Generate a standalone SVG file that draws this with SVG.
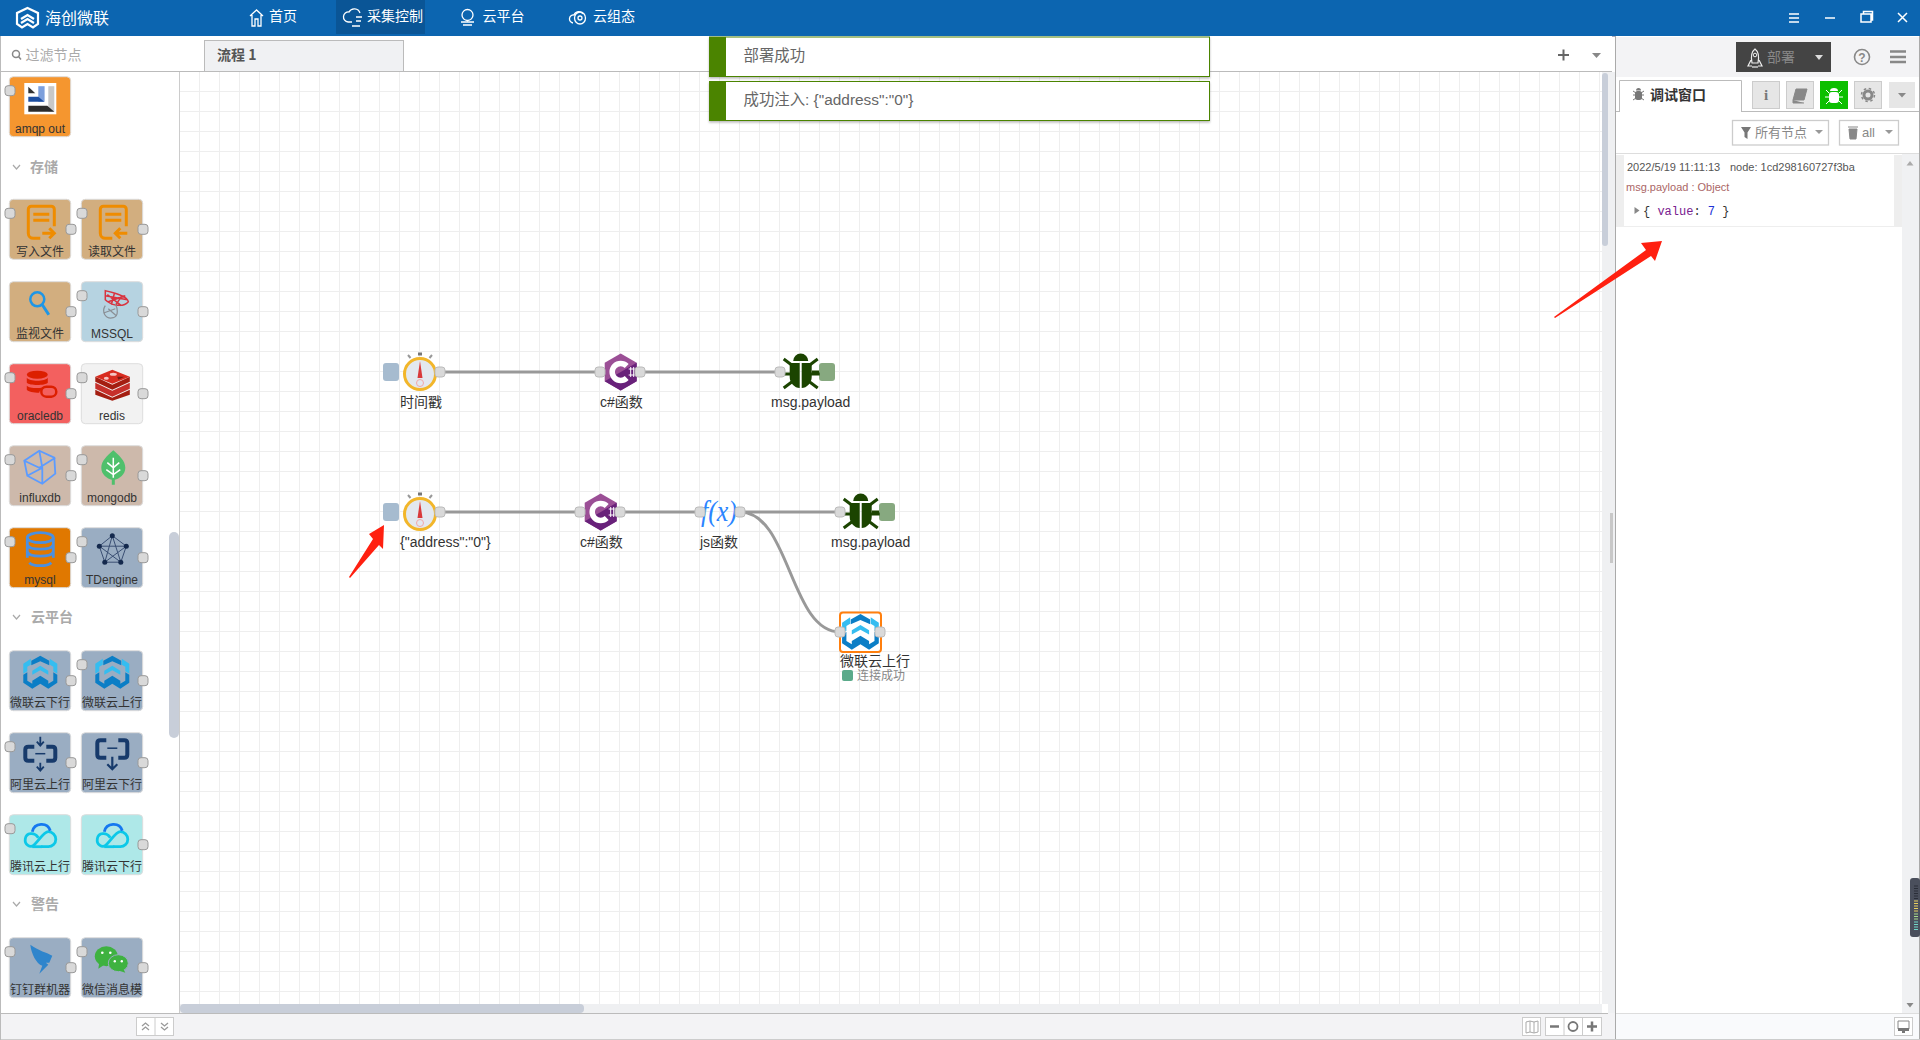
<svg xmlns="http://www.w3.org/2000/svg" xmlns:xlink="http://www.w3.org/1999/xlink" width="1920" height="1040" viewBox="0 0 1920 1040">
<style>
text{font-family:"Liberation Sans","Noto Sans CJK SC",sans-serif;font-size:14px;fill:#555}
.cjk{font-family:"Noto Sans CJK SC","Liberation Sans",sans-serif}
.nav{font-size:14px;fill:#fff}
.plabel{font-size:12px;fill:#333;text-anchor:middle}
.sec{font-size:14px;font-weight:bold;fill:#aaa}
.lab{font-size:14px;fill:#333}
.pn{stroke:#ddd;stroke-width:1}
.port{fill:#d9d9d9;stroke:#999;stroke-width:1}
.cport{fill:#d9d9d9;stroke:#bbb;stroke-width:1}
.wire{fill:none;stroke:#999;stroke-width:3}
.btn{fill:#e6e6e6;stroke:#ccc;stroke-width:1}
.wbtn{fill:#fff;stroke:#ccc;stroke-width:1.3}
.nvi{fill:none;stroke:#fff;stroke-width:1.3}
.tool{fill:#fff;stroke:#ccc;stroke-width:1}
.note{fill:#fff;stroke:#4b8400;stroke-width:1}
.ntxt{font-size:15.4px;fill:#666}
.dbg{font-size:11px;fill:#555}
.mono{font-family:"Liberation Mono",monospace;font-size:12px;white-space:pre}
</style>
<defs>
<pattern id="grid" patternUnits="userSpaceOnUse" x="180" y="71" width="20" height="20">
<rect x="19" y="0" width="1" height="20" fill="#eee"/><rect x="0" y="0" width="20" height="1" fill="#eee"/>
</pattern>
<filter id="sh" x="-2%" y="-10%" width="104%" height="125%"><feDropShadow dx="0" dy="1.5" stdDeviation="1.2" flood-color="#888" flood-opacity=".6"/></filter>
<rect id="pL" class="port" x="-4.3" y="9" width="10" height="10" rx="3"/>
<rect id="pR" class="port" x="56.7" y="25" width="10" height="10" rx="3"/>
<rect id="cp" class="cport" x="-5" y="-5" width="10" height="10" rx="3"/>
<g id="timer">
<circle cx="0" cy="0" r="15.5" fill="#e3e8ef" stroke="#f2b62a" stroke-width="3"/>
<rect x="-2" y="-21.5" width="4" height="3" fill="#777"/>
<path d="M-12-19l2.500 3M12-19l-2.500 3" stroke="#999" stroke-width="2"/>
<path d="M0-13L2.500 4H-2.500Z" fill="#d9393b"/>
<circle cx="0" cy="9" r="3.500" fill="none" stroke="#f3a7a7" stroke-width="1"/>
</g>
<g id="cs">
<path d="M0-18.500L16-9.300V9.300L0 18.500L-16 9.300V-9.300Z" fill="#9b4f96"/>
<path d="M16-9.300V9.300L0 18.500L-16 9.300L0 0Z" fill="#68217a"/>
<path d="M6-6A8.500 8.500 0 1 0 6 6" fill="none" stroke="#fff" stroke-width="5.500"/>
<path d="M8-3H14M8 3H14M10-5V5M13-5V5" stroke="#fff" stroke-width="1"/>
</g>
<g id="bug" fill="#1b4400">
<path d="M-7.500-10A7.500 7.500 0 0 1 7.500-10Z"/>
<path d="M-11-8H-1V17C-6 17-11 12-11 6ZM1-8H11V6C11 12 6 17 1 17Z"/>
<path d="M-9-6L-17-12M9-6L17-12M-10 3H-19M10 3H19M-9 11L-17 17M9 11L17 17" stroke="#1b4400" stroke-width="3" fill="none"/>
</g>
<g id="hc">
<path d="M18 1L27 6V10.500L18 6.500L9 10.500V6Z" fill="#0b7ec6"/>
<path d="M8.500 4L1 9V19L5 16.500V12L8.500 10ZM27.500 4L35 9V19L31 16.500V12L27.500 10Z" fill="#35bdf0"/>
<path d="M1 20L5 17.500V26L10 29V26L18 21L26 26V29L31 26V17.500L35 20V28L26 34L18 29L10 34L1 28Z" fill="#0b7ec6"/>
<path d="M10 16L18 11L26 16V20L18 15.500L10 20Z" fill="#35bdf0"/>
</g>
<g id="farrow" fill="none" stroke="#ef8c00" stroke-width="3">
<path d="M19 10A3 3 0 0 1 22 7H42A3 3 0 0 1 45 10V27M19 10V34A5 5 0 0 0 24 39H31"/>
<path d="M24 15H40M24 21H40"/>
</g>
</defs>

<!-- header -->
<g id="header">
<rect width="1920" height="36" fill="#0c65b0"/>
<rect y="36" width="1920" height="1" fill="#aab"/>
<rect x="336" width="89" height="34" fill="#0a5596"/>
<path d="M27.500 8L38 13V24L33 27.500L27.500 24L22 27.500L17 24V13ZM21 19L27.500 15L34 19M21 23L27.500 19L34 23" fill="none" stroke="#fff" stroke-width="2.200"/>
<text class="cjk" x="45" y="24" style="font-size:16px;fill:#fff">海创微联</text>
<path class="nvi" d="M250 16L256.500 10L263 16M252 15V26H255V19H258V26H261V15"/>
<text class="nav cjk" x="269" y="21">首页</text>
<path class="nvi" d="M348 22A5 5 0 0 1 349 12A6 6 0 0 1 360 13M348 22H352M356 17H362M356 21H361M352 26H360"/>
<text class="nav cjk" x="367" y="21">采集控制</text>
<path class="nvi" d="M462 15A5.500 5.500 0 1 1 473 15A5.500 5.500 0 1 1 462 15M461 22H474M463 25H472"/>
<text class="nav cjk" x="482.500" y="21">云平台</text>
<path class="nvi" d="M573 23A4 4 0 0 1 574 15A5 5 0 0 1 583 14"/><ellipse class="nvi" cx="580" cy="18" rx="5.500" ry="6"/><circle class="nvi" cx="580" cy="18" r="2"/>
<text class="nav cjk" x="593" y="21">云组态</text>
<path d="M1789 14H1799M1789 18H1799M1789 22H1799" stroke="#fff" stroke-width="1.300"/>
<path d="M1825 18H1835" stroke="#fff" stroke-width="1.500"/>
<path d="M1861 14H1871V22H1861ZM1863.500 14V11.500H1872.500V20H1871" fill="none" stroke="#fff" stroke-width="1.500"/>
<path d="M1898 13L1907 22M1907 13L1898 22" stroke="#fff" stroke-width="1.500"/>
</g>

<!-- workspace -->
<g id="workspace">
<rect x="180" y="71" width="1422" height="933" fill="#fff"/>
<rect x="180" y="71" width="1422" height="933" fill="url(#grid)"/>
<rect x="1602" y="72" width="13" height="941" fill="#eff0f2"/>
<rect x="1602" y="73" width="6" height="173" rx="3" fill="#c8ced9"/>
<rect x="1602" y="1004" width="6" height="9" fill="#fff"/>
<rect x="1610" y="513" width="3" height="50" fill="#c8c8c8"/>
<rect x="180" y="1004" width="1422" height="9" fill="#eff0f2"/>
<rect x="180" y="1004" width="404" height="9" rx="4" fill="#c8ced9"/>
<rect x="0" y="36" width="1612" height="35" fill="#fff"/>
<rect x="0" y="71" width="1612" height="1" fill="#bbb"/>
<rect x="204.500" y="40.500" width="199" height="31" fill="#f0f1f3" stroke="#bbb"/>
<text class="cjk" x="217" y="60" style="font-weight:bold;fill:#555">流程 1</text>
<path d="M1558 55H1569M1563.500 49.500V60.500" stroke="#666" stroke-width="2"/>
<path d="M1592 53H1601L1596.500 58Z" fill="#888"/>
</g>

<!-- palette -->
<g id="palette">
<rect x="0" y="72" width="180" height="941" fill="#fff"/>
<rect x="0" y="36" width="1" height="1004" fill="#bbb"/>
<rect x="179" y="72" width="1" height="941" fill="#ccc"/>
<rect x="169" y="532" width="10" height="206" rx="5" fill="#c8ced9"/>
<circle cx="16" cy="54" r="3.500" fill="none" stroke="#888" stroke-width="1.500"/><path d="M18.500 56.500L21 59.500" stroke="#888" stroke-width="1.500"/>
<text class="cjk" x="25.500" y="60" style="fill:#aaa">过滤节点</text>
<path d="M13 165L16.500 169L20 165M13 615L16.500 619L20 615M13 902L16.500 906L20 902" fill="none" stroke="#aaa" stroke-width="1.200"/>
<text class="sec cjk" x="30" y="172">存储</text>
<text class="sec cjk" x="31" y="622">云平台</text>
<text class="sec cjk" x="31" y="909">警告</text>

<g id="p-amqp" transform="translate(9.300 76.700)"><rect class="pn" width="61.400" height="60" rx="4" fill="#f5962f"/>
<rect x="15" y="6.300" width="32" height="31.300" fill="#fff"/>
<path d="M19 10L26 16.500H19Z" fill="#333"/><rect x="29" y="9.500" width="6.300" height="15.500" fill="#7c9fdc"/><path d="M19 20H29L35 25H19Z" fill="#1c4ea0"/><rect x="39" y="9.500" width="6" height="25.500" fill="#c8c8c8"/><path d="M19 29H38L45 35H19Z" fill="#2c2c2c"/>
<use href="#pL"/><text class="plabel" x="30.700" y="56">amqp out</text></g>

<g id="p-fw" transform="translate(9.300 199.300)"><rect class="pn" width="61.400" height="60" rx="4" fill="#d2ae7f"/>
<use href="#farrow"/><path d="M33 34H45M40 29L45 34L40 39" fill="none" stroke="#ef8c00" stroke-width="3"/>
<use href="#pL"/><use href="#pR"/><text class="plabel" x="30.700" y="56.500">写入文件</text></g>

<g id="p-fr" transform="translate(81.300 199.300)"><rect class="pn" width="61.400" height="60" rx="4" fill="#d2ae7f"/>
<use href="#farrow"/><path d="M46 34H34M39 29L34 34L39 39" fill="none" stroke="#ef8c00" stroke-width="3"/>
<use href="#pL"/><use href="#pR"/><text class="plabel" x="30.700" y="56.500">读取文件</text></g>

<g id="p-watch" transform="translate(9.300 281.700)"><rect class="pn" width="61.400" height="60" rx="4" fill="#d2ae7f"/>
<circle cx="28" cy="17.600" r="7" fill="none" stroke="#1e96e6" stroke-width="2.500"/><path d="M33 23L39.500 33" stroke="#1e96e6" stroke-width="3"/>
<use href="#pR"/><text class="plabel" x="30.700" y="56">监视文件</text></g>

<g id="p-mssql" transform="translate(81.300 281.700)"><rect class="pn" width="61.400" height="60" rx="4" fill="#b6d3e1"/>
<path d="M24 9C32 11 46 14 47 20C42 26 30 24 24 18ZM26 13L40 24M33 12L30 23M40 15L34 24M24 14L46 18M27 20L44 14" fill="none" stroke="#d9333f" stroke-width="1.500"/>
<path d="M24 24C20 30 24 38 32 36C38 34 36 26 34 22M27 27L35 34M23 31L34 27" fill="none" stroke="#8a8f95" stroke-width="1.200"/>
<use href="#pL"/><use href="#pR"/><text class="plabel" x="30.700" y="56">MSSQL</text></g>

<g id="p-oracle" transform="translate(9.300 363.700)"><rect class="pn" width="61.400" height="60" rx="4" fill="#f3605f"/>
<ellipse cx="28" cy="11" rx="10.500" ry="4" fill="#dc1f00"/><path d="M17.500 14C20 18 36 18 38.500 14V19C36 22 20 22 17.500 19ZM17.500 22C20 25 32 25 36 23L30 28V29C24 29 19 28 17.500 26Z" fill="#dc1f00"/>
<rect x="32" y="23" width="15" height="10" rx="5" fill="none" stroke="#dc1f00" stroke-width="2.500"/>
<use href="#pL"/><use href="#pR"/><text class="plabel" x="30.700" y="56">oracledb</text></g>

<g id="p-redis" transform="translate(81.300 363.700)"><rect class="pn" width="61.400" height="60" rx="4" fill="#f2f2f2"/>
<path d="M14 26L31 34L48.500 26V31L31 37L14 31Z" fill="#a41e11"/><path d="M14 19L31 27L48.500 19V25L31 33L14 25Z" fill="#c6302b"/><path d="M14 13L31 21L48.500 13V18L31 26L14 18Z" fill="#a41e11"/><path d="M14 13L31 6L48.500 13L31 20Z" fill="#d82c20"/>
<ellipse cx="32" cy="10.500" rx="3.500" ry="1.500" fill="#f5c6c3"/><ellipse cx="25" cy="14.500" rx="2.500" ry="1.500" fill="#f5c6c3"/><path d="M36 13H43L37 16Z" fill="#7a1a12"/>
<use href="#pL"/><use href="#pR"/><text class="plabel" x="30.700" y="56">redis</text></g>

<g id="p-influx" transform="translate(9.300 445.700)"><rect class="pn" width="61.400" height="60" rx="4" fill="#cdb9ab"/>
<path d="M30 5L45 12L46 28L33 38L18 30L15 15ZM15 15L30 22L46 12M30 5L33 22L18 30M33 22L33 38" fill="none" stroke="#5b9bff" stroke-width="1.800"/>
<use href="#pL"/><use href="#pR"/><text class="plabel" x="30.700" y="56">influxdb</text></g>

<g id="p-mongo" transform="translate(81.300 445.700)"><rect class="pn" width="61.400" height="60" rx="4" fill="#cdb9ab"/>
<path d="M32 4.500C26 10 20 15 20 22C20 29 26 33 30.500 34V39H33.500V34C38 33 44 29 44 22C44 15 38 10 32 4.500Z" fill="#4fc06c"/>
<path d="M32 12V32M26 17L32 22L38 17M25 24L32 29L39 24" fill="none" stroke="#fff" stroke-width="1.500"/>
<use href="#pL"/><use href="#pR"/><text class="plabel" x="30.700" y="56">mongodb</text></g>

<g id="p-mysql" transform="translate(9.300 527.700)"><rect class="pn" width="61.400" height="60" rx="4" fill="#e07800"/>
<g fill="none" stroke="#4a90e2" stroke-width="2.800"><ellipse cx="31" cy="10" rx="13" ry="5"/><path d="M18 10V30M44 10V30M18 17C20 23 42 23 44 17M18 24C20 30 42 30 44 24M20 35C24 39 38 39 42 35"/></g>
<use href="#pL"/><use href="#pR"/><text class="plabel" x="30.700" y="56">mysql</text></g>

<g id="p-td" transform="translate(81.300 527.700)"><rect class="pn" width="61.400" height="60" rx="4" fill="#9aadc2"/>
<path d="M31 8L45 18.500L39.500 34.500H23.500L18 18.500ZM31 8L39.500 34.500L18 18.500H45L23.500 34.500Z" fill="none" stroke="#3a4f73" stroke-width="1"/>
<g fill="#14294d"><circle cx="31" cy="8" r="2.500"/><circle cx="45" cy="18.500" r="2.500"/><circle cx="39.500" cy="34.500" r="2.500"/><circle cx="23.500" cy="34.500" r="2.500"/><circle cx="18" cy="18.500" r="2.500"/></g>
<use href="#pL"/><use href="#pR"/><text class="plabel" x="30.700" y="56">TDengine</text></g>

<g id="p-hcd" transform="translate(9.300 650.700)"><rect class="pn" width="61.400" height="60" rx="4" fill="#9aadc2"/>
<use href="#hc" x="13" y="4"/><use href="#pR"/><text class="plabel" x="30.700" y="56">微联云下行</text></g>

<g id="p-hcu" transform="translate(81.300 650.700)"><rect class="pn" width="61.400" height="60" rx="4" fill="#9aadc2"/>
<use href="#hc" x="13" y="4"/><use href="#pL"/><use href="#pR"/><text class="plabel" x="30.700" y="56">微联云上行</text></g>

<g id="p-aliu" transform="translate(9.300 732.700)"><rect class="pn" width="61.400" height="60" rx="4" fill="#9aadc2"/>
<path d="M25 14H19Q16 14 16 17V25Q16 28 19 28H25M37 14H43Q46 14 46 17V25Q46 28 43 28H37" fill="none" stroke="#173a6b" stroke-width="4"/>
<path d="M26 21H36" stroke="#173a6b" stroke-width="1.500"/><path d="M31 4V12M27.500 9L31 13L34.500 9M31 30V38M27.500 34L31 38L34.500 34" fill="none" stroke="#173a6b" stroke-width="1.800"/>
<use href="#pL"/><use href="#pR"/><text class="plabel" x="30.700" y="56">阿里云上行</text></g>

<g id="p-alid" transform="translate(81.300 732.700)"><rect class="pn" width="61.400" height="60" rx="4" fill="#9aadc2"/>
<path d="M25 7.500H19Q16 7.500 16 10.500V22Q16 25 19 25H25M37 7.500H43Q46 7.500 46 10.500V22Q46 25 43 25H37" fill="none" stroke="#173a6b" stroke-width="4"/>
<path d="M26 15.500H36" stroke="#173a6b" stroke-width="1.500"/><path d="M31 24V36M26 31.500L31 36.500L36 31.500" fill="none" stroke="#173a6b" stroke-width="2.200"/>
<use href="#pR"/><text class="plabel" x="30.700" y="56">阿里云下行</text></g>

<g id="p-txu" transform="translate(9.300 814.700)"><rect class="pn" width="61.400" height="60" rx="4" fill="#aee8e8"/>
<path d="M32 32H39A7.500 7.500 0 0 0 39 17C35 17 30 25 25 30C21 34 15 30 16 24C17 18 25 17 29 23" fill="none" stroke="#0cc8e8" stroke-width="2.800"/>
<path d="M23 17C25 8 38 7 41 16" fill="none" stroke="#1478f0" stroke-width="2.800"/><path d="M23 32H33" stroke="#0cc8e8" stroke-width="2.800"/>
<use href="#pL"/><text class="plabel" x="30.700" y="56">腾讯云上行</text></g>

<g id="p-txd" transform="translate(81.300 814.700)"><rect class="pn" width="61.400" height="60" rx="4" fill="#aee8e8"/>
<path d="M32 32H39A7.500 7.500 0 0 0 39 17C35 17 30 25 25 30C21 34 15 30 16 24C17 18 25 17 29 23" fill="none" stroke="#0cc8e8" stroke-width="2.800"/>
<path d="M23 17C25 8 38 7 41 16" fill="none" stroke="#1478f0" stroke-width="2.800"/><path d="M23 32H33" stroke="#0cc8e8" stroke-width="2.800"/>
<use href="#pR"/><text class="plabel" x="30.700" y="56">腾讯云下行</text></g>

<g id="p-ding" transform="translate(9.300 937.700)"><rect class="pn" width="61.400" height="60" rx="4" fill="#9aadc2"/>
<path d="M21 7C29 13 38 15 43 18L40 25H36.500L39 27L30 36L33 28C27 26 22 16 21 7Z" fill="#2f85cc"/>
<use href="#pL"/><use href="#pR"/><text class="plabel" x="30.700" y="56">钉钉群机器</text></g>

<g id="p-wx" transform="translate(81.300 937.700)"><rect class="pn" width="61.400" height="60" rx="4" fill="#9aadc2"/>
<ellipse cx="25" cy="18.500" rx="11.500" ry="10" fill="#3eb240"/><path d="M18 25L17 31L23 27Z" fill="#3eb240"/>
<ellipse cx="37" cy="25.500" rx="10" ry="8.500" fill="#3eb240" stroke="#9aadc2" stroke-width="1"/><path d="M42 31L44 35L38 33Z" fill="#3eb240"/>
<circle cx="21" cy="15" r="1.300" fill="#fff"/><circle cx="29" cy="15" r="1.300" fill="#fff"/><circle cx="33.500" cy="23.500" r="1.200" fill="#fff"/><circle cx="40.500" cy="23.500" r="1.200" fill="#fff"/>
<use href="#pL"/><use href="#pR"/><text class="plabel" x="30.700" y="56">微信消息模</text></g>
</g>

<!-- bottom bar -->
<g id="bottombar">
<rect x="1" y="1013" width="1614" height="27" fill="#f3f3f5"/>
<rect x="1" y="1013" width="1607" height="1" fill="#bbb"/>
<rect x="1" y="1039" width="1614" height="1" fill="#ccc"/>
<rect class="tool" x="136.500" y="1017.500" width="37" height="18"/><path d="M155 1018V1035" stroke="#ccc"/>
<path d="M142 1026L145.500 1023L149 1026M142 1030L145.500 1027L149 1030" fill="none" stroke="#999" stroke-width="1.300"/>
<path d="M161 1023L164.500 1026L168 1023M161 1027L164.500 1030L168 1027" fill="none" stroke="#999" stroke-width="1.300"/>
<rect class="tool" x="1522.500" y="1017.500" width="18" height="18"/>
<path d="M1526 1022L1530 1021L1534 1022L1538 1021V1032L1534 1033L1530 1032L1526 1033ZM1530 1021V1032M1534 1022V1033" fill="none" stroke="#aaa"/>
<rect class="tool" x="1545.500" y="1017.500" width="56" height="18"/><path d="M1564 1018V1035M1582.500 1018V1035" stroke="#ccc"/>
<path d="M1550 1026.500H1559" stroke="#777" stroke-width="2.500"/>
<circle cx="1573" cy="1026.500" r="4.500" fill="none" stroke="#777" stroke-width="1.800"/>
<path d="M1587 1026.500H1597M1592 1021.500V1031.500" stroke="#777" stroke-width="2.500"/>
</g>

<!-- notifications -->
<g id="notify-1"><rect class="note" x="709.500" y="37" width="500" height="39.500" filter="url(#sh)"/><rect x="710" y="37" width="16" height="39.500" fill="#4b8400"/><text class="ntxt cjk" x="743.500" y="60.500">部署成功</text></g>
<g id="notify-2"><rect class="note" x="709.500" y="81.500" width="500" height="39" filter="url(#sh)"/><rect x="710" y="81.500" width="16" height="39" fill="#4b8400"/><text class="ntxt" x="743.500" y="104.500">成功注入: {"address":"0"}</text></g>

<!-- connectors -->
<g id="connectors">
<path class="wire" d="M440 372H600"/>
<path class="wire" d="M640 372H780"/>
<path class="wire" d="M440 512H580"/>
<path class="wire" d="M620 512H700"/>
<path class="wire" d="M740 512H840"/>
<path class="wire" d="M740 512C790 512 790 632 840 632"/>
</g>

<!-- flow nodes -->
<g id="n-inject-1"><rect x="383" y="363" width="16" height="18" rx="3" fill="#a6bbcf"/><use href="#timer" x="420" y="374"/><use href="#cp" x="440" y="372"/><text class="lab" x="400" y="407">时间戳</text></g>
<g id="n-cs-1"><use href="#cs" x="620.700" y="372"/><use href="#cp" x="600" y="372"/><use href="#cp" x="640" y="372"/><text class="lab" x="600" y="407">c#函数</text></g>
<g id="n-debug-1"><path d="M812 372H820" stroke="#1b4400" stroke-width="3"/><rect x="819" y="363" width="16" height="18" rx="3" fill="#87a980"/><use href="#bug" x="800.700" y="371"/><use href="#cp" x="780" y="372"/><text class="lab" x="771" y="407">msg.payload</text></g>
<g id="n-inject-2"><rect x="383" y="503" width="16" height="18" rx="3" fill="#a6bbcf"/><use href="#timer" x="420" y="514"/><use href="#cp" x="440" y="512"/><text class="lab" x="400" y="547">{"address":"0"}</text></g>
<g id="n-cs-2"><use href="#cs" x="600.700" y="512"/><use href="#cp" x="580" y="512"/><use href="#cp" x="620" y="512"/><text class="lab" x="580" y="547">c#函数</text></g>
<g id="n-js"><text x="701" y="521" textLength="36" lengthAdjust="spacingAndGlyphs" style="font-family:'Liberation Serif',serif;font-style:italic;font-size:30px;fill:#2b85ff">f(x)</text><use href="#cp" x="700" y="512"/><use href="#cp" x="740" y="512"/><text class="lab" x="700" y="547">js函数</text></g>
<g id="n-debug-2"><path d="M872 512H880" stroke="#1b4400" stroke-width="3"/><rect x="879" y="503" width="16" height="18" rx="3" fill="#87a980"/><use href="#bug" x="860.700" y="511"/><use href="#cp" x="840" y="512"/><text class="lab" x="831" y="547">msg.payload</text></g>
<g id="n-cloud"><rect x="840" y="612.500" width="41" height="39.500" rx="3" fill="#fff" stroke="#ff7f0e" stroke-width="2"/><g transform="translate(841 613) scale(1.080)"><use href="#hc"/></g><use href="#cp" x="840" y="632"/><use href="#cp" x="880" y="632"/><text class="lab" x="840" y="666">微联云上行</text><rect x="842" y="670" width="11" height="11" rx="2" fill="#5aaa8a"/><text x="857" y="679.500" style="font-size:12px;fill:#888">连接成功</text></g>

<!-- sidebar -->
<g id="sidebar">
<rect x="1615" y="36" width="305" height="1004" fill="#fff"/>
<rect x="1615" y="36" width="1" height="1004" fill="#aaa"/>
<rect x="1919" y="36" width="1" height="1004" fill="#aaa"/>
<rect x="1616" y="37" width="303" height="40" fill="#f3f3f5"/>
<rect x="1736" y="42" width="95" height="30" fill="#444"/>
<path d="M1755 49C1751 52 1751 58 1752 63H1758C1759 58 1759 52 1755 49ZM1751 60L1748 66H1752M1759 60L1762 66H1758M1753 66V68M1755 66V68M1757 66V68" fill="none" stroke="#eee" stroke-width="1.200"/><circle cx="1755" cy="55" r="1.800" fill="none" stroke="#eee"/>
<text class="cjk" x="1767" y="62" style="fill:#888">部署</text>
<path d="M1815 55H1823L1819 60Z" fill="#ddd"/>
<circle cx="1862" cy="57" r="7.500" fill="none" stroke="#888" stroke-width="1.600"/>
<text x="1862" y="61.500" text-anchor="middle" style="font-size:12px;font-weight:bold;fill:#888">?</text>
<path d="M1890 51.500H1906M1890 57H1906M1890 62H1906" stroke="#888" stroke-width="2.600"/>
<rect x="1616" y="77" width="303" height="35" fill="#fff"/>
<rect x="1616" y="111" width="303" height="1" fill="#bbb"/>
<path d="M1619.500 112V80.500H1741.500V112" fill="#fff" stroke="#bbb"/>
<rect x="1620" y="110" width="121" height="2" fill="#fff"/>
<path d="M1633 91l3 2M1644 91l-3 2M1633 95h3M1644 95h-3M1633 100l3-2M1644 100l-3-2" stroke="#777"/>
<rect x="1635" y="91" width="7" height="9" rx="2.500" fill="#777"/><path d="M1636 90.500A2.500 2.500 0 0 1 1641 90.500Z" fill="#777"/>
<text class="cjk" x="1650" y="100" style="font-weight:bold;fill:#333">调试窗口</text>
<rect class="btn" x="1752.500" y="81.500" width="27" height="27"/><text x="1766" y="100" text-anchor="middle" style="font-family:'Liberation Serif',serif;font-size:15px;font-weight:bold;fill:#777">i</text>
<rect class="btn" x="1786.500" y="81.500" width="27" height="27"/><path d="M1796 89H1807L1804 100H1793ZM1793 100L1793 103H1804" fill="#888" stroke="#888"/>
<rect x="1820" y="81" width="28" height="28" fill="#0cbf00"/><path d="M1830 91A4 3 0 0 1 1838 91Z" fill="#fff"/><rect x="1829" y="92" width="10" height="11" rx="3" fill="#fff"/><path d="M1826 90l3 3M1842 90l-3 3M1825 97h4M1843 97h-4M1826 104l3-3M1842 104l-3-3" stroke="#fff"/>
<rect class="btn" x="1854.500" y="81.500" width="27" height="27"/><circle cx="1868" cy="95" r="4" fill="none" stroke="#888" stroke-width="3"/><circle cx="1868" cy="95" r="6.500" fill="none" stroke="#888" stroke-width="1.500" stroke-dasharray="2.500 2.600"/>
<rect x="1889" y="82" width="26" height="26" fill="#e6e6e6"/><path d="M1898 93H1906L1902 97.500Z" fill="#888"/>
<rect class="wbtn" x="1732.500" y="120.500" width="96" height="24.500"/>
<path d="M1741 127H1751L1747.500 132.500V139L1744.500 137V132.500Z" fill="#777"/>
<text class="cjk" x="1755" y="137" style="font-size:13px;fill:#888">所有节点</text>
<path d="M1815 130H1823L1819 134Z" fill="#999"/>
<rect class="wbtn" x="1839.500" y="120.500" width="59" height="24.500"/>
<path d="M1849 129H1857L1856 139H1850ZM1848 127H1858" fill="#888" stroke="#888"/>
<text x="1862" y="137" style="font-size:13px;fill:#888">all</text>
<path d="M1885 130H1893L1889 134Z" fill="#999"/>
<rect x="1616" y="153" width="303" height="1" fill="#ddd"/>
<rect x="1616" y="155" width="8" height="71" fill="#eee"/>
<rect x="1894" y="155" width="8" height="71" fill="#eee"/>
<rect x="1616" y="226" width="286" height="1" fill="#eee"/>
<rect x="1902" y="154" width="17" height="859" fill="#f0f1f3"/>
<path d="M1906.500 165.500H1913.500L1910 161Z" fill="#aaa"/>
<path d="M1906.500 1003H1913.500L1910 1007.500Z" fill="#888"/>
<text class="dbg" x="1627" y="171">2022/5/19 11:11:13</text>
<text class="dbg" x="1730" y="171">node: 1cd298160727f3ba</text>
<text class="dbg" x="1626" y="191" style="fill:#a66">msg.payload : Object</text>
<path d="M1634.500 207V214L1639.500 210.500Z" fill="#888"/>
<text class="mono" x="1643" y="215" style="fill:#333">{ <tspan style="fill:#79218f">value</tspan>: <tspan style="fill:#2033d6">7</tspan> }</text>
<rect x="1910" y="878" width="10" height="59" rx="3" fill="#4a4f5c"/>
<path d="M1914 886H1918M1914 888.500H1918M1914 891H1918M1914 893.500H1918M1914 896H1918M1914 898.500H1918" stroke="#2a2e38" stroke-width="1.200"/>
<path d="M1914 901H1918M1914 903.500H1918M1914 906H1918M1914 908.500H1918M1914 911H1918" stroke="#e8d060" stroke-width="1.200"/>
<path d="M1914 914H1918M1914 916.500H1918M1914 919H1918" stroke="#a8dc8c" stroke-width="1.200"/>
<path d="M1914 922H1918M1914 924.500H1918M1914 927H1918M1914 929.500H1918" stroke="#70d8c8" stroke-width="1.200"/>
<rect x="1616" y="1013" width="303" height="27" fill="#f9fafc"/>
<rect x="1616" y="1013" width="303" height="1" fill="#ddd"/>
<rect x="1615" y="1039" width="305" height="1" fill="#ccc"/>
<rect class="tool" x="1894.500" y="1017.500" width="18" height="18"/>
<path d="M1898 1021H1909V1029H1898Z" fill="none" stroke="#888"/><path d="M1898 1028H1909V1031H1898ZM1902 1031H1905V1033H1902Z" fill="#777"/>
</g>

<!-- annotations -->
<g id="annotations" fill="#ff2010">
<path d="M1662 241L1641 243L1646 250L1554 317L1555 318L1651 256L1655 261Z"/>
<path d="M384 525L369 534L373 539L349 577L350 578L379 545L383 549Z"/>
</g>
</svg>
